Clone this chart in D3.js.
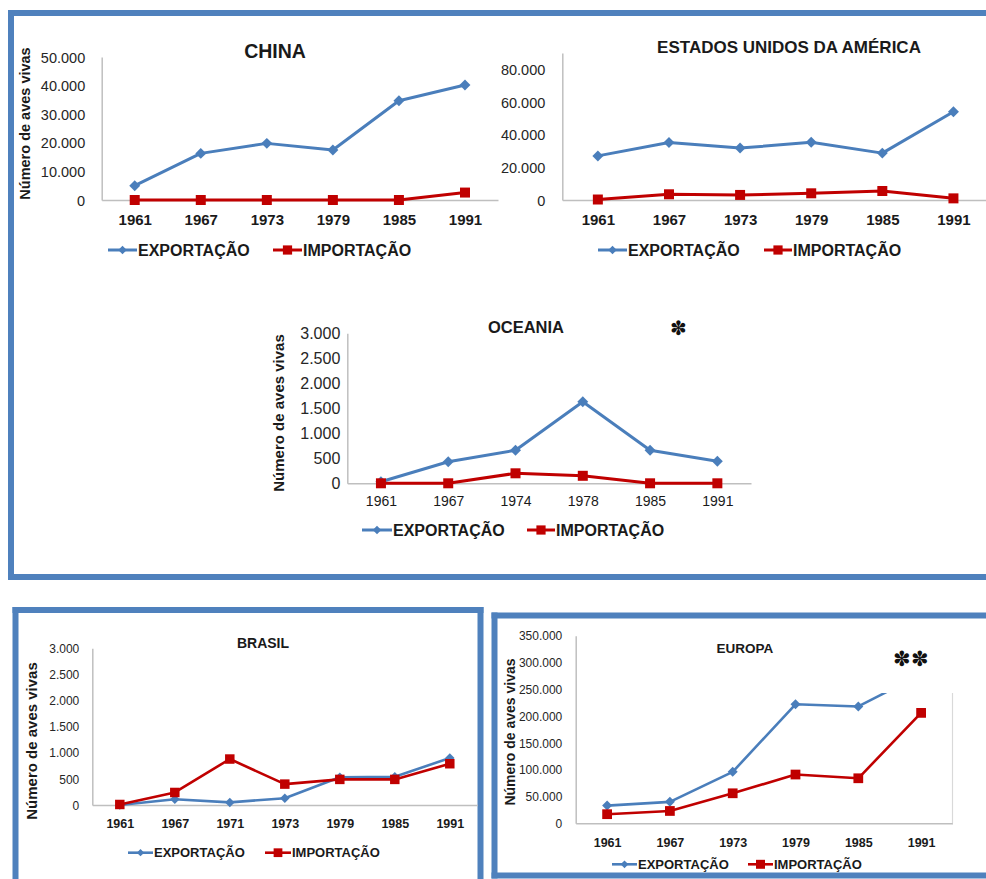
<!DOCTYPE html>
<html><head><meta charset="utf-8">
<script src="https://cdn.jsdelivr.net/npm/d3@7"></script>
<style>body{margin:0;background:#fff}svg{display:block}text{font-family:"Liberation Sans",Arial,sans-serif}</style>
</head><body>
<script>
// ---------- DATA ----------
const seriesNames = ["EXPORTAÇÃO", "IMPORTAÇÃO"];
const yLabelText = "Número de aves vivas";

const chinaYears = ["1961","1967","1973","1979","1985","1991"];
const chinaExport = [5000, 16300, 19800, 17500, 34700, 40200];
const chinaImport = [0, 0, 0, 0, 0, 2600];
const chinaTicks = [0, 10000, 20000, 30000, 40000, 50000];

const usaYears = ["1961","1967","1973","1979","1985","1991"];
const usaExport = [27000, 35200, 31800, 35300, 28700, 54000];
const usaImport = [300, 3500, 3100, 4100, 5500, 1000];
const usaTicks = [0, 20000, 40000, 60000, 80000];

const oceaniaYears = ["1961","1967","1974","1978","1985","1991"];
const oceaniaExport = [30, 430, 660, 1630, 660, 440];
const oceaniaImport = [0, 0, 200, 150, 0, 0];
const oceaniaTicks = [0, 500, 1000, 1500, 2000, 2500, 3000];

const brasilYears = ["1961","1967","1971","1973","1979","1985","1991"];
const brasilExport = [0, 110, 50, 130, 530, 540, 900];
const brasilImport = [10, 240, 880, 400, 490, 490, 790];
const brasilTicks = [0, 500, 1000, 1500, 2000, 2500, 3000];

const europaYears = ["1961","1967","1973","1979","1985","1991"];
const europaExport = [33000, 40000, 96000, 222000, 218000, 278000];
const europaImport = [17000, 23000, 56000, 91000, 84000, 206000];
const europaTicks = [0, 50000, 100000, 150000, 200000, 250000, 300000, 350000];

// ---------- STYLE ----------
const BLUE = "#4A7EBB", RED = "#C00000", FRAME = "#4F81BD", AXIS = "#BFBFBF";
const fmt = d3.formatLocale({decimal: ",", thousands: ".", grouping: [3], currency: ["", ""]}).format(",d");

const W = 986, H = 879;
const svg = d3.select("body").append("svg").attr("width", W).attr("height", H);

// frames
function frame(x1, y1, x2, y2, sides) {
  const g = svg.append("g");
  const lines = {top:[x1,y1,x2,y1], bottom:[x1,y2,x2,y2], left:[x1,y1,x1,y2], right:[x2,y1,x2,y2]};
  sides.forEach(s => {
    const l = lines[s];
    g.append("line").attr("x1", l[0]).attr("y1", l[1]).attr("x2", l[2]).attr("y2", l[3])
      .attr("stroke", FRAME).attr("stroke-width", 6).attr("stroke-linecap", "square");
  });
}
frame(11, 13, 1000, 577, ["top", "bottom", "left"]);
frame(15.5, 610, 480.5, 900, ["top", "left", "right"]);
frame(494.5, 615.5, 1000, 875.5, ["top", "bottom", "left"]);

function panel(p) {
  const g = svg.append("g");
  const x = d3.scalePoint().domain(p.years).range([p.x0, p.x1]).padding(0.5);
  const y = d3.scaleLinear().domain([0, p.yMax]).range([p.yBottom, p.yTop]);

  // y axis
  const ya = g.append("g").attr("transform", `translate(${p.x0},0)`)
    .call(d3.axisLeft(y).tickValues(p.ticks).tickSize(0).tickPadding(p.yPad).tickFormat(fmt));
  ya.select(".domain").attr("stroke", AXIS).attr("stroke-width", 1.5);
  ya.selectAll("text").attr("font-size", p.yFont).attr("fill", "#262626")
    .attr("font-family", '"Liberation Sans",Arial,sans-serif').attr("dy", "0.35em");

  // x axis
  const xa = g.append("g").attr("transform", `translate(0,${p.yBottom})`)
    .call(d3.axisBottom(x).tickSize(0).tickSizeOuter(0));
  xa.select(".domain").attr("stroke", AXIS).attr("stroke-width", 1.5);
  xa.selectAll("text").attr("font-size", p.xFont).attr("font-weight", p.xBold ? "bold" : "normal")
    .attr("fill", "#1a1a1a").attr("font-family", '"Liberation Sans",Arial,sans-serif')
    .attr("dy", null).attr("y", p.xBase - p.yBottom);

  if (p.rightLine) {
    g.append("line").attr("x1", p.x1).attr("x2", p.x1).attr("y1", p.rightLine).attr("y2", p.yBottom)
      .attr("stroke", "#D9D9D9").attr("stroke-width", 1.2);
  }

  const line = d3.line().x((d, i) => x(p.years[i])).y(d => y(d));
  const series = [
    {vals: p.exp, color: BLUE, shape: "diamond"},
    {vals: p.imp, color: RED, shape: "square"}
  ];
  series.forEach(s => {
    g.append("path").datum(s.vals).attr("d", line).attr("fill", "none")
      .attr("stroke", s.color).attr("stroke-width", p.lw).attr("stroke-linejoin", "round");
  });
  series.forEach(s => {
    const sym = s.shape === "diamond"
      ? d3.symbol().type(d3.symbolSquare).size(p.dSize)
      : d3.symbol().type(d3.symbolSquare).size(p.sSize);
    g.selectAll(null).data(s.vals).enter().append("path")
      .attr("d", sym)
      .attr("transform", (d, i) => `translate(${x(p.years[i])},${y(d)})` + (s.shape === "diamond" ? " rotate(45)" : ""))
      .attr("fill", s.color);
  });

  // cover box (Europa)
  if (p.cover) {
    g.append("rect").attr("x", p.cover[0]).attr("y", p.cover[1]).attr("width", p.cover[2]).attr("height", p.cover[3])
      .attr("fill", "#fff");
  }

  // title
  g.append("text").attr("x", p.titleX).attr("y", p.titleY).attr("text-anchor", "middle")
    .attr("font-size", p.titleFont).attr("font-weight", "bold").attr("fill", "#1a1a1a").text(p.title);

  if (p.star) {
    g.append("text").attr("x", p.star[0]).attr("y", p.star[1]).attr("text-anchor", "middle")
      .attr("dominant-baseline", "central").attr("font-family", '"DejaVu Sans",sans-serif')
      .attr("font-size", p.star[2]).attr("fill", "#111").text(p.star[3]);
  }

  // y label
  if (p.yLab) {
    g.append("text").attr("transform", `translate(${p.yLab[0]},${p.yLab[1]}) rotate(-90)`)
      .attr("text-anchor", "middle").attr("dominant-baseline", "central")
      .attr("font-size", p.yLab[2]).attr("font-weight", "bold").attr("fill", "#1a1a1a").text(yLabelText);
  }

  // legend
  p.legend.forEach((L, i) => {
    const s = series[i];
    g.append("line").attr("x1", L[0]).attr("x2", L[1]).attr("y1", p.legY).attr("y2", p.legY)
      .attr("stroke", s.color).attr("stroke-width", p.lw);
    const mx = (L[0] + L[1]) / 2;
    const sym = d3.symbol().type(d3.symbolSquare).size(s.shape === "diamond" ? p.dSize * 0.6 : p.sSize * 0.85);
    g.append("path").attr("d", sym)
      .attr("transform", `translate(${mx},${p.legY})` + (s.shape === "diamond" ? " rotate(45)" : ""))
      .attr("fill", s.color);
    g.append("text").attr("x", L[1] + 1).attr("y", p.legY).attr("dy", "0.36em")
      .attr("font-size", p.legFont).attr("font-weight", "bold").attr("fill", "#1a1a1a").text(seriesNames[i]);
  });
}

panel({title: "CHINA", years: chinaYears, exp: chinaExport, imp: chinaImport, ticks: chinaTicks, yMax: 50000,
  x0: 101.7, x1: 498, yTop: 57, yBottom: 200, yPad: 16.5, yFont: 14.5, xFont: 15, xBold: true, xBase: 225,
  lw: 3, dSize: 60, sSize: 100, titleX: 275, titleY: 57.5, titleFont: 19.5,
  yLab: [25, 123.5, 14.5], legY: 250, legFont: 16, legend: [[108, 137], [273, 302]]});

panel({title: "ESTADOS UNIDOS DA AMÉRICA", years: usaYears, exp: usaExport, imp: usaImport, ticks: usaTicks, yMax: 90000,
  x0: 562.3, x1: 989, yTop: 53, yBottom: 200, yPad: 17, yFont: 14.5, xFont: 15, xBold: true, xBase: 225,
  lw: 3, dSize: 60, sSize: 100, titleX: 789, titleY: 53.3, titleFont: 17,
  legY: 250, legFont: 16, legend: [[598, 627], [764, 792]]});

panel({title: "OCEANIA", years: oceaniaYears, exp: oceaniaExport, imp: oceaniaImport, ticks: oceaniaTicks, yMax: 3000,
  x0: 347.3, x1: 751, yTop: 333.3, yBottom: 483.3, yPad: 7, yFont: 16, xFont: 14, xBold: false, xBase: 506.5,
  lw: 3, dSize: 60, sSize: 100, titleX: 526, titleY: 333.3, titleFont: 16.5,
  star: [678, 327.5, 20, "✽"],
  yLab: [278, 413, 15], legY: 530, legFont: 16, legend: [[362, 392], [527, 555]]});

panel({title: "BRASIL", years: brasilYears, exp: brasilExport, imp: brasilImport, ticks: brasilTicks, yMax: 3000,
  x0: 92.3, x1: 477.3, yTop: 648.3, yBottom: 805, yPad: 13, yFont: 12, xFont: 12.5, xBold: true, xBase: 828.3,
  lw: 2.6, dSize: 45, sSize: 90, titleX: 263, titleY: 648.3, titleFont: 14,
  yLab: [31, 741, 15], legY: 852.7, legFont: 13, legend: [[128, 153], [265, 291]]});

panel({title: "EUROPA", years: europaYears, exp: europaExport, imp: europaImport, ticks: europaTicks, yMax: 350000,
  x0: 575.7, x1: 952.5, yTop: 635.7, yBottom: 823.3, yPad: 13.4, yFont: 12, xFont: 12.5, xBold: true, xBase: 847.3,
  lw: 2.6, dSize: 50, sSize: 95, titleX: 745, titleY: 653.3, titleFont: 13.5,
  cover: [862, 628, 89.5, 65], rightLine: 693,
  star: [911, 658.5, 21, "✽✽"],
  yLab: [510, 732, 14], legY: 864.3, legFont: 13, legend: [[612, 637], [748, 773]]});
</script>
</body></html>
